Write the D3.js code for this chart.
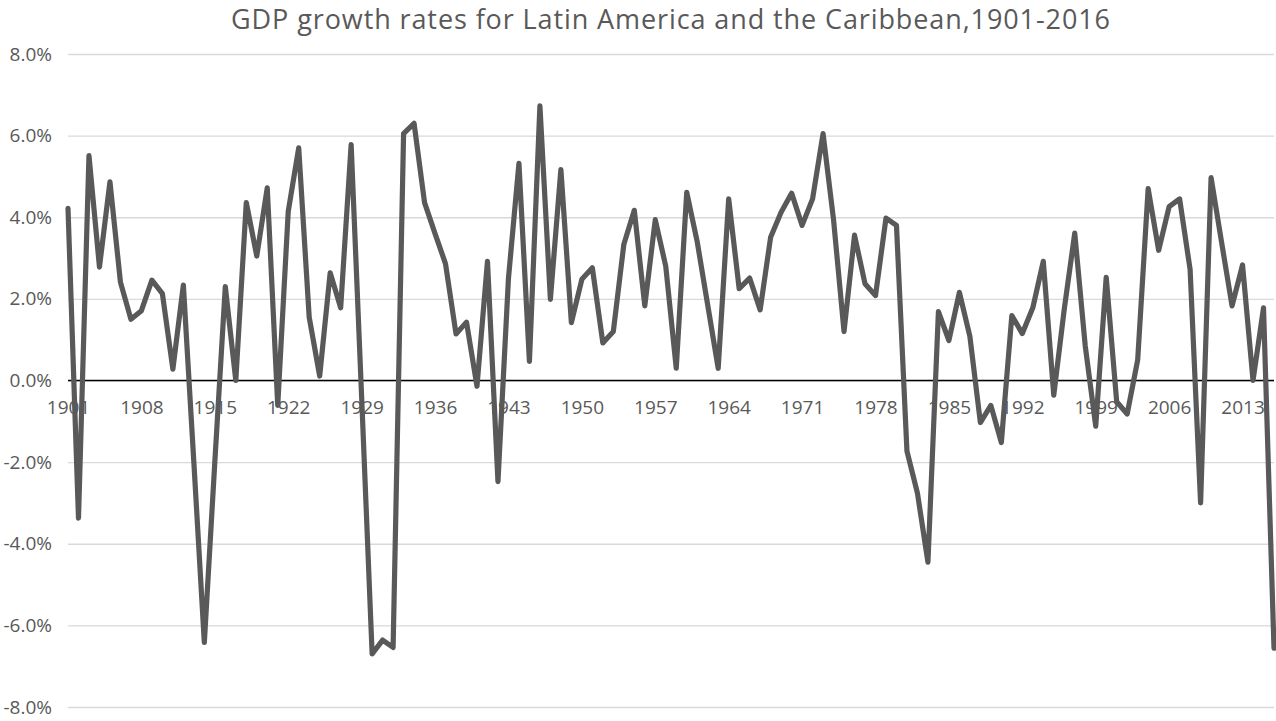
<!DOCTYPE html>
<html>
<head>
<meta charset="utf-8">
<script src="https://cdn.jsdelivr.net/npm/d3@7"></script>
<style>
  html, body { margin: 0; padding: 0; background: #ffffff; }
  svg { display: block; }
</style>
</head>
<body>
<svg id="chart" width="1276" height="721"></svg>
<script>
const title = "GDP growth rates for Latin America and the Caribbean,1901-2016";
const startYear = 1901;
const growth = [
  4.22, -3.37, 5.51, 2.78, 4.87, 2.41, 1.50, 1.71, 2.46, 2.13,
  0.28, 2.34, -2.00, -6.42, -2.00, 2.30, 0.00, 4.36, 3.05, 4.72,
  -0.61, 4.14, 5.70, 1.55, 0.11, 2.64, 1.78, 5.78, -0.40, -6.70,
  -6.36, -6.54, 6.05, 6.30, 4.36, 3.60, 2.86, 1.14, 1.43, -0.14,
  2.92, -2.48, 2.50, 5.32, 0.47, 6.73, 1.99, 5.17, 1.42, 2.48,
  2.76, 0.92, 1.20, 3.33, 4.17, 1.83, 3.94, 2.80, 0.30, 4.61,
  3.40, 1.85, 0.30, 4.45, 2.25, 2.51, 1.73, 3.51, 4.12, 4.59,
  3.80, 4.45, 6.05, 3.94, 1.20, 3.56, 2.37, 2.08, 3.98, 3.80,
  -1.73, -2.76, -4.45, 1.69, 0.98, 2.16, 1.08, -1.03, -0.61, -1.52,
  1.59, 1.15, 1.78, 2.92, -0.36, 1.75, 3.61, 0.85, -1.12, 2.53,
  -0.52, -0.82, 0.50, 4.70, 3.19, 4.26, 4.45, 2.72, -3.00, 4.97,
  3.39, 1.83, 2.83, 0.00, 1.78, -6.56
];
const years = growth.map((v, i) => startYear + i);
const yTicks = [8, 6, 4, 2, 0, -2, -4, -6, -8];
const xTickYears = years.filter((y, i) => i % 7 === 0);

const svg = d3.select("#chart");
const font = "'Open Sans', 'Noto Sans', sans-serif";
const textColor = "#595959";

const x = d3.scalePoint().domain(years).range([68, 1274]);
const y = d3.scaleLinear().domain([-8, 8]).range([707, 54]);

// gridlines
const yAxis = d3.axisLeft(y).tickValues(yTicks).tickSize(-(1274 - 68)).tickFormat(d => d.toFixed(1) + "%");
const gy = svg.append("g").attr("transform", "translate(68,0)").call(yAxis);
gy.select(".domain").remove();
gy.selectAll(".tick line").attr("stroke", "#d9d9d9").attr("stroke-width", 1.3);
gy.selectAll(".tick text")
  .attr("x", -16)
  .attr("fill", textColor)
  .style("font-family", font)
  .style("font-size", "19px");

// x axis labels at zero line
const xAxis = d3.axisBottom(x).tickValues(xTickYears).tickSize(0).tickPadding(20);
const gx = svg.append("g").attr("transform", `translate(0,${y(0)})`).call(xAxis);
gx.select(".domain").remove();
gx.selectAll(".tick text")
  .attr("fill", textColor)
  .style("font-family", font)
  .style("font-size", "19px");

// zero line
svg.append("line")
  .attr("x1", 68).attr("x2", 1274)
  .attr("y1", y(0)).attr("y2", y(0))
  .attr("stroke", "#000000").attr("stroke-width", 1.6);

// data line
const line = d3.line().x((d, i) => x(years[i])).y(d => y(d));
svg.append("path")
  .datum(growth)
  .attr("d", line)
  .attr("fill", "none")
  .attr("stroke", "#595959")
  .attr("stroke-width", 5.2)
  .attr("stroke-linejoin", "round")
  .attr("stroke-linecap", "round");

// title
svg.append("text")
  .attr("x", 671).attr("y", 29)
  .attr("text-anchor", "middle")
  .attr("fill", textColor)
  .style("font-family", font)
  .style("font-size", "27px")
  .style("letter-spacing", "0.9px")
  .text(title);
</script>
</body>
</html>
